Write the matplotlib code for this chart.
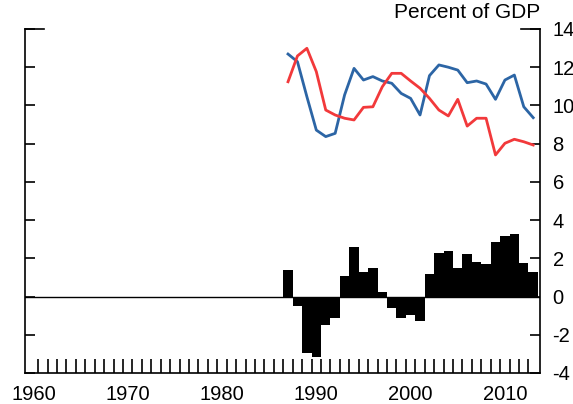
import matplotlib
matplotlib.use("Agg")
import matplotlib.pyplot as plt
import numpy as np

plt.rcParams['font.family'] = ['Liberation Sans', 'DejaVu Sans']

# Annual series, percent of GDP
years = list(range(1987, 2014))
saving = [12.69, 12.29, 10.46, 8.71, 8.37, 8.54, 10.55, 11.94, 11.33, 11.51,
          11.28, 11.16, 10.63, 10.37, 9.50, 11.56, 12.12, 12.00, 11.85, 11.19,
          11.28, 11.12, 10.32, 11.33, 11.59, 9.93, 9.36]
investment = [11.24, 12.59, 12.99, 11.77, 9.76, 9.50, 9.33, 9.24, 9.90, 9.93,
              10.98, 11.68, 11.68, 11.28, 10.90, 10.37, 9.76, 9.45, 10.32, 8.92,
              9.33, 9.33, 7.41, 8.02, 8.23, 8.10, 7.93]
balance = [1.40, -0.49, -2.97, -3.14, -1.48, -1.13, 1.10, 2.57, 1.31, 1.48,
           0.23, -0.58, -1.13, -0.96, -1.27, 1.19, 2.30, 2.39, 1.48, 2.22,
           1.83, 1.69, 2.84, 3.19, 3.28, 1.75, 1.31]

decade_labels = ["1960", "1970", "1980", "1990", "2000", "2010"]
y_labels = ["-4", "-2", "0", "2", "4", "6", "8", "10", "12", "14"]

W, H = 573, 404
fig = plt.figure(figsize=(W / 100, H / 100), dpi=100)
ax = fig.add_axes([25 / W, 31 / H, 515 / W, 344 / H])

ax.bar(years, balance, width=1.0, color='black', linewidth=0, zorder=2)
ax.axhline(0, color='black', linewidth=1.0, zorder=3)
ax.plot(years, saving, color='#2c65a5', linewidth=2.0, zorder=4)
ax.plot(years, investment, color='#f2393b', linewidth=2.0, zorder=4)

ax.set_xlim(1959.11, 2013.72)
ax.set_ylim(-4, 14)

# x axis: decade labels, yearly ticks on the year boundaries
ax.set_xticks([int(s) for s in decade_labels])
ax.set_xticklabels(decade_labels)
ax.set_xticks(np.arange(1960.5, 2013, 1.0), minor=True)
ax.tick_params(axis='x', which='major', length=0, pad=8.5, labelsize=14.5)
ax.tick_params(axis='x', which='minor', direction='in', length=10, width=1.2)

# y axis: labels on the right, inward ticks on both sides
ax.set_yticks([float(s) for s in y_labels])
ax.set_yticklabels(y_labels)
ax.tick_params(axis='y', which='major', direction='in', length=7.5, width=1.2,
               left=True, right=True, labelleft=False, labelright=True,
               pad=9, labelsize=14.5)

for side in ('left', 'right', 'bottom'):
    ax.spines[side].set_linewidth(1.2)
ax.spines['top'].set_visible(False)

# short corner stubs at the top of the frame
stub = 19 / 515
ax.plot([0, stub], [1, 1], transform=ax.transAxes, color='black', lw=1.2,
        clip_on=False, solid_capstyle='projecting')
ax.plot([1 - stub, 1], [1, 1], transform=ax.transAxes, color='black', lw=1.2,
        clip_on=False, solid_capstyle='projecting')

fig.text(540 / W, 1 - 18 / H, "Percent of GDP", ha='right', va='baseline',
         fontsize=15)

fig.savefig("out.png", dpi=100)
